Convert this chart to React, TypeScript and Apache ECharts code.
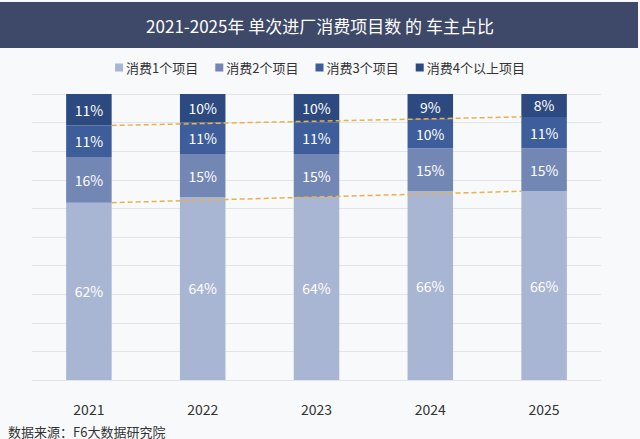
import React, { useEffect, useRef } from 'react';
import * as echarts from 'echarts';

const years = ['2021', '2022', '2023', '2024', '2025'];
const seriesNames = ['消费1个项目', '消费2个项目', '消费3个项目', '消费4个以上项目'];
const oneItem = [62, 64, 64, 66, 66];
const twoItems = [16, 15, 15, 15, 15];
const threeItems = [11, 11, 11, 10, 11];
const fourPlus = [11, 10, 10, 9, 8];
const colors = ['#a9b6d3', '#7387b5', '#3d5e9a', '#2d4a80'];

const FONT = '"Noto Sans CJK SC", "Noto Sans", sans-serif';

const App: React.FC = () => {
  const chartRef = useRef<HTMLDivElement>(null);

  useEffect(() => {
    if (!chartRef.current) return;
    const myChart = echarts.init(chartRef.current, undefined, { renderer: 'svg' });

    const values = [oneItem, twoItems, threeItems, fourPlus];
    const last = years.length - 1;
    // dashed trend lines run from the right edge of the first bar to the left edge of the last
    const cum3 = (i: number) => oneItem[i] + twoItems[i] + threeItems[i];
    const trendLines = [
      [[0.2, cum3(0)], [last - 0.2, cum3(last)]],
      [[0.2, oneItem[0]], [last - 0.2, oneItem[last]]],
    ];

    const option: echarts.EChartsOption = {
      animation: false,
      backgroundColor: '#f8f9fb',
      textStyle: { fontFamily: FONT },
      graphic: [
        {
          type: 'rect',
          shape: { x: 0, y: 2, width: 638, height: 46 },
          style: { fill: '#3e4868' },
          z: 0,
        },
        {
          type: 'text',
          x: 320,
          y: 25,
          style: {
            text: '2021-2025年 单次进厂消费项目数 的 车主占比',
            fill: '#ffffff',
            font: `17px ${FONT}`,
            align: 'center',
            verticalAlign: 'middle',
          },
          z: 1,
        },
        {
          type: 'text',
          x: 8,
          y: 431,
          style: {
            text: '数据来源：F6大数据研究院',
            fill: '#333333',
            font: `13px ${FONT}`,
            align: 'left',
            verticalAlign: 'middle',
          },
        },
      ],
      legend: {
        data: seriesNames,
        top: 56,
        left: 'center',
        itemWidth: 8,
        itemHeight: 8,
        itemGap: 17,
        icon: 'rect',
        textStyle: { fontSize: 13, color: '#333333', fontFamily: FONT, padding: [0, 0, 0, -2] },
      },
      grid: { left: 32, right: 39, top: 94, bottom: 59 },
      xAxis: [
        {
          type: 'category',
          data: years,
          axisLine: { show: false },
          axisTick: { show: false },
          axisLabel: { color: '#333333', fontSize: 14, margin: 22, fontFamily: FONT },
        },
        {
          type: 'value',
          min: -0.5,
          max: years.length - 0.5,
          show: false,
        },
      ],
      yAxis: {
        type: 'value',
        min: 0,
        max: 100,
        interval: 10,
        axisLabel: { show: false },
        axisLine: { show: false },
        axisTick: { show: false },
        splitLine: { lineStyle: { color: '#e2e4e9', width: 1 } },
      },
      series: [
        ...seriesNames.map((name, i) => ({
          name,
          type: 'bar' as const,
          stack: 'total',
          barWidth: '40%',
          data: values[i],
          itemStyle: { color: colors[i] },
          label: {
            show: true,
            position: 'inside' as const,
            formatter: '{c}%',
            color: '#ffffff',
            fontSize: 14,
            fontFamily: FONT,
          },
        })),
        ...trendLines.map((pts) => ({
          type: 'line' as const,
          xAxisIndex: 1,
          data: pts,
          symbol: 'none',
          silent: true,
          z: 5,
          lineStyle: { color: '#e8b24a', width: 1.5, type: [5, 3] as number[] },
        })),
      ],
    };

    myChart.setOption(option);
    return () => {
      myChart.dispose();
    };
  }, []);

  return <div ref={chartRef} style={{ width: 640, height: 439, position: 'absolute', left: 0, top: 0 }} />;
};

export default App;
